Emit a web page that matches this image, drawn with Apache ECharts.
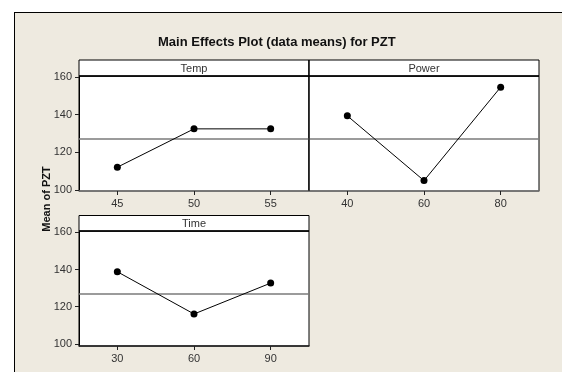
<!DOCTYPE html>
<html><head><meta charset="utf-8">
<script src="https://cdn.jsdelivr.net/npm/echarts@6/dist/echarts.min.js"></script>
<style>
html,body{margin:0;padding:0;background:#fff;}
#frame{position:absolute;left:14px;top:12px;width:548px;height:360px;background:#EEEAE0;border-left:1px solid #000;border-top:1px solid #000;box-sizing:border-box;}
#chart{position:absolute;left:0;top:0;width:562px;height:372px;}
</style></head><body>
<div id="frame"></div><div id="chart"></div>
<script>
// Data
const tempLevels = ['45', '50', '55'];
const tempMeans = [112.1, 132.4, 132.4];
const powerLevels = ['40', '60', '80'];
const powerMeans = [139.3, 105.0, 154.5];
const timeLevels = ['30', '60', '90'];
const timeMeans = [138.8, 116.1, 132.7];
const grandMean = 127;
const yTicks = [100, 120, 140, 160];
const panelNames = ['Temp', 'Power', 'Time'];

const FONT = 'Liberation Sans';
const chart = echarts.init(document.getElementById('chart'), null, {renderer: 'canvas'});

function xAxis(gi, cats, lineColor) {
  return {
    type: 'category', gridIndex: gi, data: cats, boundaryGap: true,
    axisLine: {show: true, lineStyle: {color: lineColor, width: 1.5}},
    axisTick: {show: true, alignWithLabel: true, length: 4, lineStyle: {color: '#222'}},
    axisLabel: {show: true, margin: 7, fontFamily: FONT, fontSize: 11, color: '#333'},
    splitLine: {show: false}
  };
}
function yAxis(gi, mn, mx, showLabels) {
  return {
    type: 'value', gridIndex: gi, min: mn, max: mx,
    axisLine: {show: showLabels, lineStyle: {color: '#000', width: 1}},
    axisTick: {show: showLabels, length: 4, customValues: yTicks, lineStyle: {color: '#222'}},
    axisLabel: {show: showLabels, margin: 7, customValues: yTicks, fontFamily: FONT, fontSize: 11, color: '#333'},
    splitLine: {show: false}
  };
}
function series(gi, data) {
  return {
    type: 'line', xAxisIndex: gi, yAxisIndex: gi, data: data,
    symbol: 'circle', symbolSize: 7, showSymbol: true,
    lineStyle: {color: '#000', width: 1}, itemStyle: {color: '#000'},
    markLine: {
      silent: true, symbol: 'none', label: {show: false},
      lineStyle: {color: '#7a7a7a', width: 1.5, type: 'solid'},
      data: [{yAxis: grandMean}]
    },
    z: 5
  };
}
function header(x, y, w, h, text) {
  return [
    {type: 'rect', shape: {x: x, y: y, width: w, height: h}, style: {fill: '#fff', stroke: '#000', lineWidth: 1}, z: 10},
    {type: 'line', shape: {x1: x, y1: y + h, x2: x + w, y2: y + h}, style: {stroke: '#000', lineWidth: 1.5}, z: 11},
    {type: 'text', x: x + w / 2, y: y + h / 2 + 0.5, style: {text: text, fontFamily: FONT, fontSize: 11, fill: '#333', textAlign: 'center', textVerticalAlign: 'middle'}, z: 12}
  ];
}

const gridStyle = {show: true, backgroundColor: '#fff', borderColor: '#000', borderWidth: 1};

chart.setOption({
  animation: false,
  backgroundColor: 'transparent',
  title: {
    text: 'Main Effects Plot (data means) for PZT', left: 153, top: 31,
    textStyle: {fontFamily: FONT, fontSize: 13, fontWeight: 'bold', color: '#111'}
  },
  grid: [
    Object.assign({left: 79, top: 76, width: 230, height: 115}, gridStyle),
    Object.assign({left: 309, top: 76, width: 230, height: 115}, gridStyle),
    Object.assign({left: 79, top: 231, width: 230, height: 115}, gridStyle)
  ],
  xAxis: [
    xAxis(0, tempLevels, '#777'),
    xAxis(1, powerLevels, '#777'),
    xAxis(2, timeLevels, '#222')
  ],
  yAxis: [
    yAxis(0, 99.5, 160.4, true),
    yAxis(1, 99.5, 160.4, false),
    yAxis(2, 98.9, 160.7, true)
  ],
  series: [series(0, tempMeans), series(1, powerMeans), series(2, timeMeans)],
  graphic: [].concat(
    header(79, 60, 230, 16, panelNames[0]),
    header(309, 60, 230, 16, panelNames[1]),
    header(79, 215.5, 230, 15.5, panelNames[2]),
    [{type: 'line', shape: {x1: 309, y1: 60, x2: 309, y2: 191}, style: {stroke: '#000', lineWidth: 1}, z: 12},
     {type: 'text', x: 47, y: 199, rotation: Math.PI / 2,
      style: {text: 'Mean of PZT', fontFamily: FONT, fontSize: 11, fontWeight: 'bold', fill: '#111', textAlign: 'center', textVerticalAlign: 'middle'}, z: 12}]
  )
});
</script>
</body></html>
